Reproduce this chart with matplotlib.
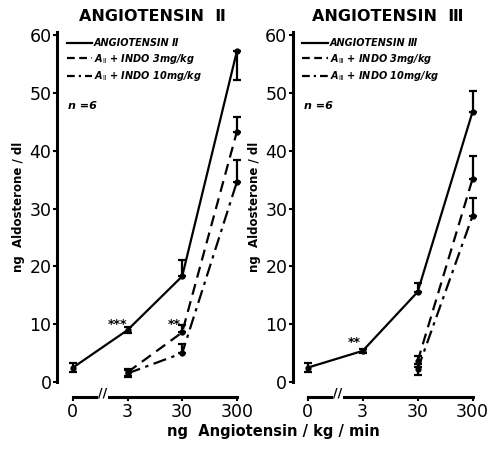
import numpy as np
import matplotlib
matplotlib.use("Agg")
import matplotlib.pyplot as plt

# x categories (dose of angiotensin, ng/kg/min)
doses = ["0", "3", "30", "300"]

# Angiotensin II panel
a2_ctrl = [2.5, 9.0, 18.3, 57.2]
a2_ctrl_err = [0.8, 0.5, 2.9, 5.0]
a2_ctrl_dir = [0, 0, 1, -1]          # error bar drawn: 0 both, 1 up, -1 down
a2_indo3 = [1.7, 8.6, 43.3]
a2_indo3_err = [0.6, 1.3, 2.6]
a2_indo10 = [1.5, 5.0, 34.6]
a2_indo10_err = [0.6, 1.6, 3.8]

# Angiotensin III panel
a3_ctrl = [2.5, 5.4, 15.6, 46.8]
a3_ctrl_err = [0.8, 0.4, 1.5, 3.6]
a3_ctrl_dir = [0, 0, 1, 1]
a3_indo3 = [3.6, 35.2]
a3_indo3_err = [1.0, 3.9]
a3_indo10 = [2.2, 28.8]
a3_indo10_err = [1.0, 3.0]

fig = plt.figure(figsize=(4.93, 4.49), dpi=100)
ax1 = fig.add_axes([0.1156, 0.149, 0.387, 0.779])
ax2 = fig.add_axes([0.594, 0.149, 0.387, 0.779])

LW = 1.6
DASH = (0, (5, 3))
DASHDOT = (0, (6, 2.5, 1.5, 2.5))


def draw_err(ax, x, y, e, d):
    lo = e if d <= 0 else 0
    hi = e if d >= 0 else 0
    ax.errorbar(x, y, yerr=[[lo], [hi]], fmt="none", ecolor="black",
                elinewidth=1.6, capsize=3, capthick=1.6, zorder=3)


def style_axes(ax, title, sub, x_index_left):
    ax.set_xlim(x_index_left, 3.2)
    ax.set_ylim(0, 60.5)
    for s in ["top", "right"]:
        ax.spines[s].set_visible(False)
    ax.spines["left"].set_linewidth(2.2)
    ax.spines["left"].set_bounds(0, 60.5)
    ax.spines["bottom"].set_linewidth(2.2)
    ax.spines["bottom"].set_position(("outward", 11))
    ax.spines["bottom"].set_bounds(0, 3)
    ax.set_yticks([0, 10, 20, 30, 40, 50, 60])
    ax.set_xticks(range(len(doses)))
    ax.set_xticklabels(doses)
    ax.tick_params(axis="both", labelsize=12.5, width=1.5, length=3, pad=1)
    ax.set_ylabel("ng  Aldosterone / dl", fontsize=8.5, fontweight="bold", labelpad=3)
    ax.set_title(title, fontsize=11.5, fontweight="bold", pad=8)
    # axis break between 0 and 3
    ax.text(0.55, -0.032, "//", transform=ax.get_xaxis_transform(), ha="center",
            va="center", fontsize=9, fontweight="bold",
            bbox=dict(facecolor="white", edgecolor="none", pad=0.3), clip_on=False)
    ax.text(0.06, 0.78, "n =6", transform=ax.transAxes, fontsize=8,
            fontstyle="italic", fontweight="bold")
    labels = ["ANGIOTENSIN " + sub,
              r"A$_{\mathrm{" + sub + r"}}$ + INDO 3mg/kg",
              r"A$_{\mathrm{" + sub + r"}}$ + INDO 10mg/kg"]
    return labels


lab1 = style_axes(ax1, "ANGIOTENSIN  Ⅱ", "Ⅱ", -0.29)
lab2 = style_axes(ax2, "ANGIOTENSIN  Ⅲ", "Ⅲ", -0.27)

# left panel
x = np.arange(4)
ax1.plot(x, a2_ctrl, "-", color="black", lw=LW, marker="o", ms=3.5)
for i in range(4):
    draw_err(ax1, x[i], a2_ctrl[i], a2_ctrl_err[i], a2_ctrl_dir[i])
ax1.plot(x[1:], a2_indo3, color="black", lw=LW, ls=DASH, marker="o", ms=3.5)
ax1.plot(x[1:], a2_indo10, color="black", lw=LW, ls=DASHDOT, marker="o", ms=3.5)
for i in range(3):
    draw_err(ax1, x[i + 1], a2_indo3[i], a2_indo3_err[i], 0 if i == 0 else 1)
    draw_err(ax1, x[i + 1], a2_indo10[i], a2_indo10_err[i], 0 if i == 0 else 1)
ax1.text(0.82, 10.0, "***", fontsize=9, fontweight="bold", ha="center", va="center")
ax1.text(1.85, 10.0, "**", fontsize=9, fontweight="bold", ha="center", va="center")

# right panel
ax2.plot(x, a3_ctrl, "-", color="black", lw=LW, marker="o", ms=3.5)
for i in range(4):
    draw_err(ax2, x[i], a3_ctrl[i], a3_ctrl_err[i], a3_ctrl_dir[i])
ax2.plot(x[2:], a3_indo3, color="black", lw=LW, ls=DASH, marker="o", ms=3.5)
ax2.plot(x[2:], a3_indo10, color="black", lw=LW, ls=DASHDOT, marker="o", ms=3.5)
for i in range(2):
    draw_err(ax2, x[i + 2], a3_indo3[i], a3_indo3_err[i], 0 if i == 0 else 1)
    draw_err(ax2, x[i + 2], a3_indo10[i], a3_indo10_err[i], 0 if i == 0 else 1)
ax2.text(0.85, 6.8, "**", fontsize=9, fontweight="bold", ha="center", va="center")

for ax, labels in [(ax1, lab1), (ax2, lab2)]:
    hs = []
    for ls in ["-", (0, (3.5, 2)), (0, (3.5, 1.8, 1, 1.8))]:
        hh, = ax.plot([], [], color="black", lw=LW, ls=ls)
        hs.append(hh)
    ax.legend(hs, labels, loc="upper left", bbox_to_anchor=(0.02, 1.0), frameon=False,
              handlelength=2.6, handletextpad=0.2, labelspacing=0.35, borderaxespad=0.2,
              prop=dict(size=7, style="italic", weight="bold"))

fig.text(0.555, 0.03, "ng  Angiotensin / kg / min", ha="center", fontsize=10.5,
         fontweight="bold")

fig.savefig("out.png", dpi=100)
